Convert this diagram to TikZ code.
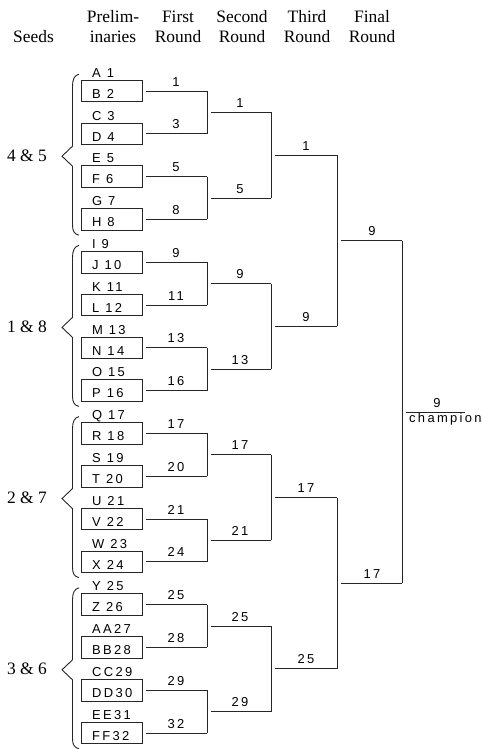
\documentclass[tikz,border=0pt]{standalone}
\usepackage{fontspec}
\setmainfont{Liberation Serif}
\newfontfamily\plfont[LetterSpace=18]{Liberation Sans}
\begin{document}
\begin{tikzpicture}[x=1bp,y=-1bp,
  ln/.style={line width=0.9bp, draw=black!85},
  pbox/.style={draw=black!85, line width=0.9bp, rectangle, minimum width=61bp, minimum height=21.5bp, inner sep=0pt},
  pname/.style={font=\plfont\fontsize{13}{13}\selectfont, anchor=base west, inner sep=0pt},
  rlab/.style={font=\plfont\fontsize{13}{13}\selectfont, anchor=base, inner sep=0pt},
  head/.style={font=\fontsize{17.5}{20}\selectfont, inner sep=0pt, anchor=base},
]
\useasboundingbox (0,0) rectangle (483,749);
% headers
\node[head] (hs) at (33.5,43) {Seeds};
\node[head] (h1a) at (113,23) {Prelim-};
\node[head] (h1b) at (113,43) {inaries};
\node[head] (h2a) at (178,23) {First};
\node[head] (h2b) at (178,43) {Round};
\node[head] (h3a) at (242,23) {Second};
\node[head] (h3b) at (242,43) {Round};
\node[head] (h4a) at (307,23) {Third};
\node[head] (h4b) at (307,43) {Round};
\node[head] (h5a) at (372,23) {Final};
\node[head] (h5b) at (372,43) {Round};
% seeds groups
\foreach \k/\s in {0/4 \& 5,1/1 \& 8,2/2 \& 7,3/3 \& 6}{
  \pgfmathsetmacro\cc{155.2+171.2*\k}
  \node[head] (sd\k) at (27,\cc+6) {\s};
  \draw[ln] (79,\cc-81) .. controls (74.5,\cc-80) and (72.5,\cc-76) .. (72.5,\cc-69)
     -- (72.5,\cc-9) -- (62,\cc+1) -- (72.5,\cc+11)
     -- (72.5,\cc+70) .. controls (72.5,\cc+76) and (74.5,\cc+79) .. (79,\cc+80);
}
% preliminaries and first round
\foreach \i/\ta/\tb/\w in {0/A 1/B 2/1,1/C 3/D 4/3,2/E 5/F 6/5,3/G 7/H 8/8,
  4/I 9/J 10/9,5/K 11/L 12/11,6/M 13/N 14/13,7/O 15/P 16/16,
  8/Q 17/R 18/17,9/S 19/T 20/20,10/U 21/V 22/21,11/W 23/X 24/24,
  12/Y 25/Z 26/25,13/AA27/BB28/28,14/CC29/DD30/29,15/EE31/FF32/32}{
  \pgfmathsetmacro\yc{91+42.8*\i}
  \node[pbox] (b\i) at (111.5,\yc) {};
  \node[pname] (ta\i) at (92,\yc-13.8) {\ta};
  \node[pname] (tb\i) at (92,\yc+7.3) {\tb};
  \coordinate (p\i) at (207,\yc);
  \draw[ln] ([xshift=3.5bp]b\i.east) -- (p\i);
  \node[rlab] (w\i) at (176,\yc-5) {\w};
}
\foreach \j in {0,...,7}{
  \pgfmathtruncatemacro\a{2*\j}
  \pgfmathtruncatemacro\b{2*\j+1}
  \draw[ln] (p\a) -- (p\b);
}
% second round
\foreach \j/\w in {0/1,1/5,2/9,3/13,4/17,5/21,6/25,7/29}{
  \pgfmathsetmacro\yc{112.4+85.6*\j}
  \coordinate (s\j) at (207,\yc);
  \coordinate (q\j) at (271,\yc);
  \draw[ln] ([xshift=4bp]s\j) -- (q\j);
  \node[rlab] (v\j) at (240,\yc-5) {\w};
}
\foreach \k in {0,...,3}{
  \pgfmathtruncatemacro\a{2*\k}
  \pgfmathtruncatemacro\b{2*\k+1}
  \draw[ln] (q\a) -- (q\b);
}
% third round
\foreach \k/\w in {0/1,1/9,2/17,3/25}{
  \pgfmathsetmacro\yc{155.2+171.2*\k}
  \coordinate (t\k) at (271,\yc);
  \coordinate (u\k) at (337,\yc);
  \draw[ln] ([xshift=4bp]t\k) -- (u\k);
  \node[rlab] (x\k) at (306,\yc-5) {\w};
}
\draw[ln] (u0) -- (u1);
\draw[ln] (u2) -- (u3);
% final round
\foreach \m/\w in {0/9,1/17}{
  \pgfmathsetmacro\yc{240.8+342.4*\m}
  \coordinate (f\m) at (337,\yc);
  \coordinate (g\m) at (402,\yc);
  \draw[ln] ([xshift=4bp]f\m) -- (g\m);
  \node[rlab] (y\m) at (372,\yc-5) {\w};
}
\draw[ln] (g0) -- (g1);
% champion
\coordinate (c0) at (402,412);
\coordinate (c1) at (465,412);
\draw[ln] ([xshift=4bp]c0) -- (c1);
\node[rlab] (cw) at (437,407) {9};
\node[pname] (ch) at (409,422.5) {champion};
\end{tikzpicture}
\end{document}
